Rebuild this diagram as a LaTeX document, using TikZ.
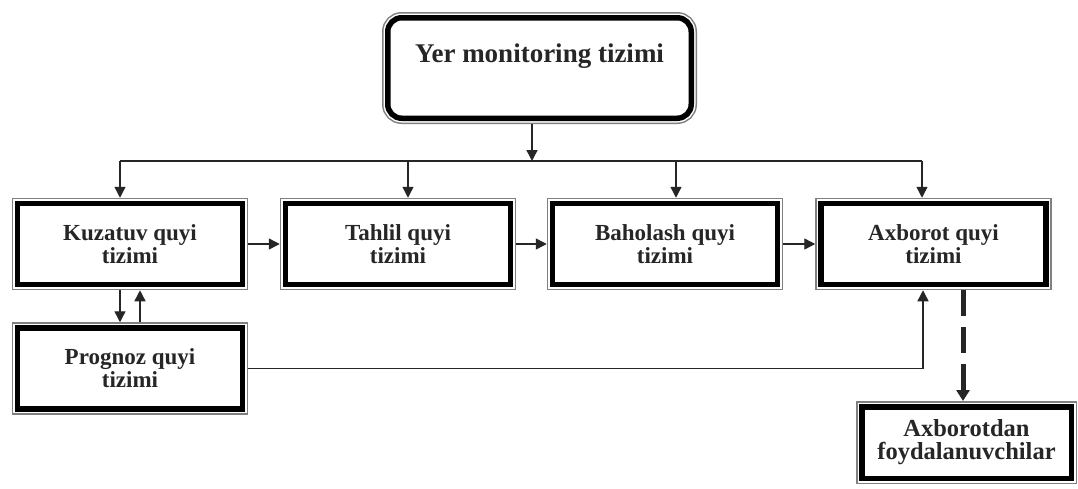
\documentclass[tikz,border=0pt]{standalone}
\usepackage{fontspec}
\setmainfont{Liberation Serif}
\usetikzlibrary{arrows.meta}
\tikzset{
  frame/.style={draw=black, line width=5.5pt, fill=white, outer sep=0pt,
    preaction={draw=black!50, line width=11.5pt},
    preaction={draw=white, line width=8.5pt},
    font=\bfseries\fontsize{23}{23}\selectfont, align=center, inner sep=0pt,
    text=black!85},
  subbox/.style={frame, minimum width=225pt, minimum height=81pt},
  arr/.style={-{Triangle[length=11pt,width=11pt]}, line width=1.4pt, black!85},
  link/.style={line width=1.4pt, black!85},
  dasharr/.style={-{Triangle[length=11pt,width=13pt]}, line width=5pt, black!85,
    dash pattern=on 26pt off 11pt},
}
\begin{document}
\begin{tikzpicture}[x=1pt,y=1pt]
\useasboundingbox (0,0) rectangle (1078,-488);
\fill[white] (0,0) rectangle (1078,-488);
% nodes
\node[frame, rounded corners=14pt, minimum width=303.5pt, minimum height=100.5pt,
  font=\bfseries\fontsize{27}{27}\selectfont, text height=15pt, text depth=27pt]
  (top) at (539.5,-68) {Yer monitoring tizimi};
\node[subbox] (kuz) at (130,-244) {Kuzatuv quyi\\tizimi};
\node[subbox] (tah) at (398,-244) {Tahlil quyi\\tizimi};
\node[subbox] (bah) at (665,-244) {Baholash quyi\\tizimi};
\node[subbox] (axb) at (933.5,-244) {Axborot quyi\\tizimi};
\node[subbox] (prog) at (130,-368.5) {Prognoz quyi\\tizimi};
\node[frame, minimum width=209.5pt, minimum height=71.5pt,
  font=\bfseries\fontsize{24.5}{23}\selectfont]
  (users) at (966.5,-442.5) {Axborotdan\\foydalanuvchilar};
% distribution line
\coordinate (split) at (532,-161);
\coordinate (d1) at (120,-161);
\coordinate (d2) at (408,-161);
\coordinate (d3) at (676,-161);
\coordinate (d4) at (922,-161);
\draw[arr, shorten <=5.75pt] (top.south -| split) -- (split);
\draw[link] (d1) -- (d4);
\draw[arr, shorten >=5.75pt] (d1) -- (d1 |- kuz.north);
\draw[arr, shorten >=5.75pt] (d2) -- (d2 |- tah.north);
\draw[arr, shorten >=5.75pt] (d3) -- (d3 |- bah.north);
\draw[arr, shorten >=5.75pt] (d4) -- (d4 |- axb.north);
% chain
\draw[arr, shorten <=5.75pt, shorten >=5.75pt] (kuz.east) -- (tah.west);
\draw[arr, shorten <=5.75pt, shorten >=5.75pt] (tah.east) -- (bah.west);
\draw[arr, shorten <=5.75pt, shorten >=5.75pt] (bah.east) -- (axb.west);
% kuzatuv <-> prognoz
\draw[arr, shorten <=5.75pt, shorten >=5.75pt] ([xshift=-10pt]kuz.south) -- ([xshift=-10pt]prog.north);
\draw[arr, shorten <=5.75pt, shorten >=5.75pt] ([xshift=10pt]prog.north) -- ([xshift=10pt]kuz.south);
% prognoz -> axborot
\draw[arr, shorten <=5.75pt, shorten >=5.75pt] (prog.east) -| ([xshift=-10.5pt]axb.south);
% axborot -> users
\draw[dasharr, shorten <=5.75pt, shorten >=5.75pt] ([xshift=29.5pt]axb.south) -- ([xshift=29.5pt]axb.south |- users.north);
\end{tikzpicture}
\end{document}
